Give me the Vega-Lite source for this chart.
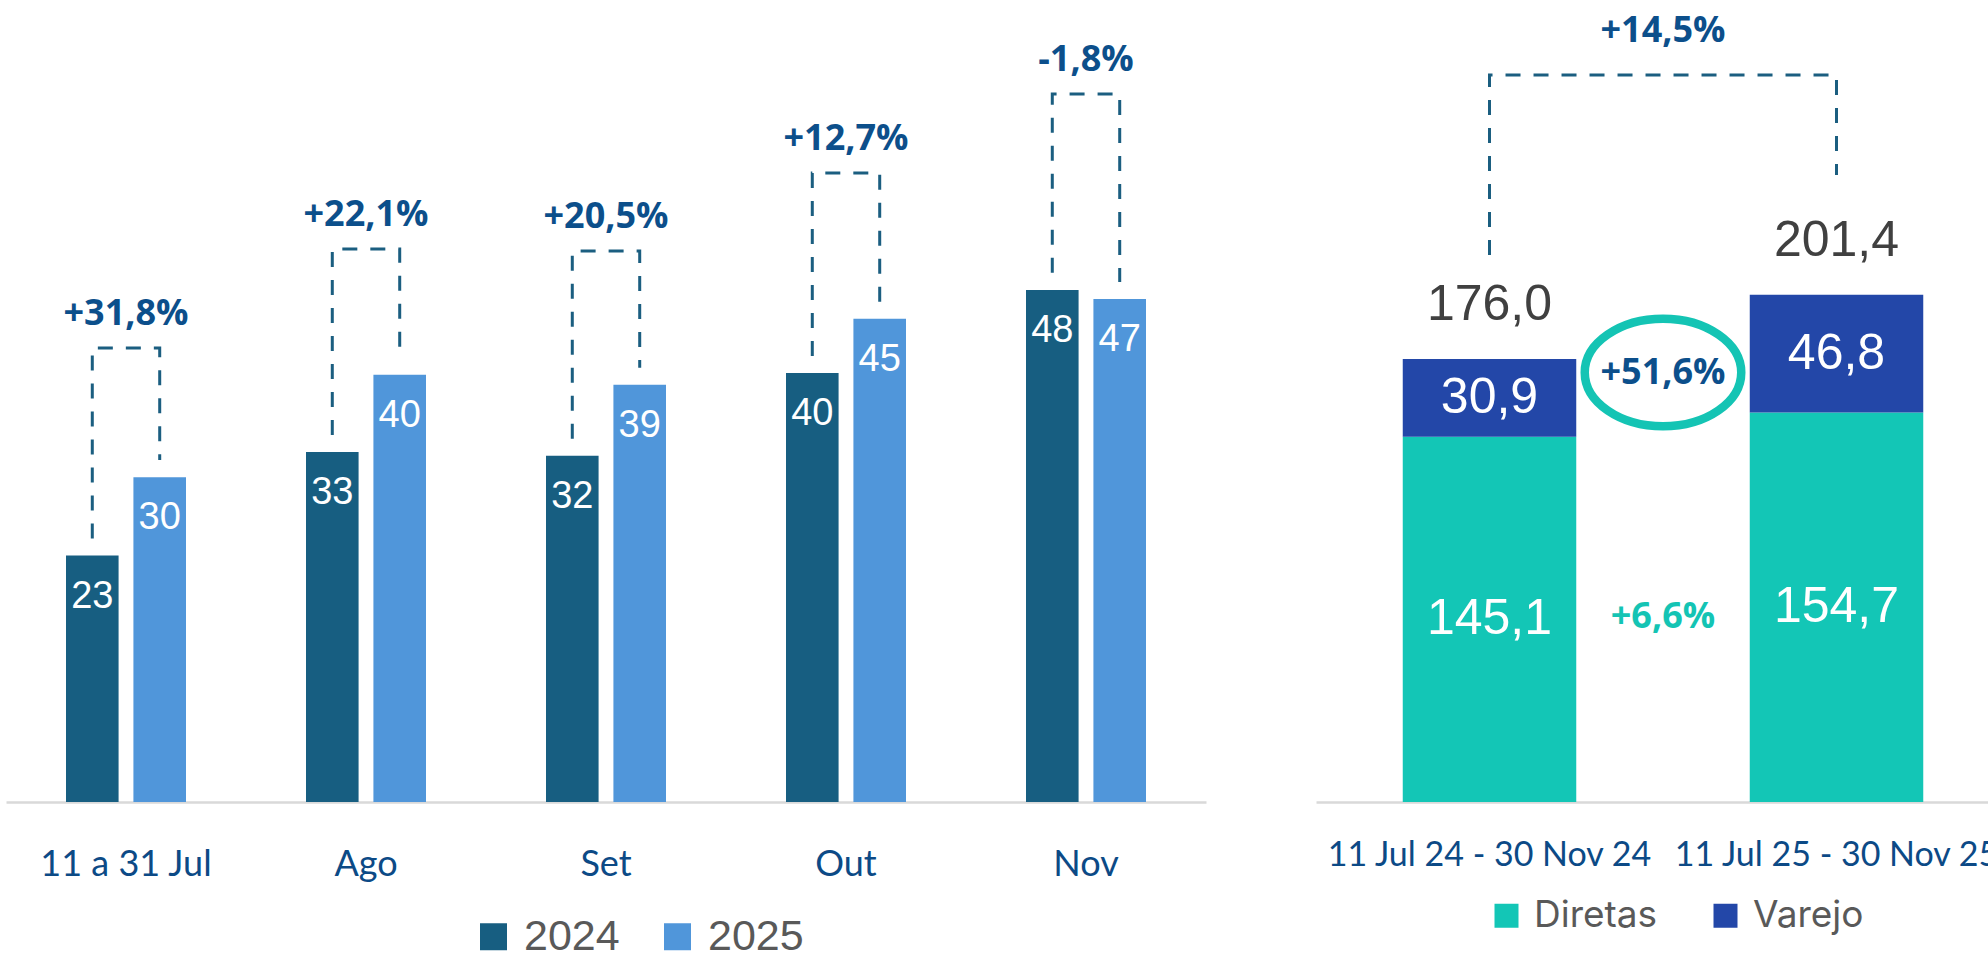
{
  "$schema": "https://vega.github.io/schema/vega-lite/v6.json",
  "width": 1988,
  "height": 953,
  "padding": 0,
  "autosize": {"type": "none"},
  "background": "#FFFFFF",
  "config": {
    "view": {"stroke": null},
    "font": "Lato",
    "axis": {"grid": false},
    "locale": {"number": {"decimal": ",", "thousands": ".", "grouping": [3], "currency": ["R$", ""]}}
  },
  "datasets": {
    "mensal": [
      {"periodo": "11 a 31 Jul", "ano": "2024", "valor": 23.1},
      {"periodo": "11 a 31 Jul", "ano": "2025", "valor": 30.45},
      {"periodo": "Ago", "ano": "2024", "valor": 32.8},
      {"periodo": "Ago", "ano": "2025", "valor": 40.05},
      {"periodo": "Set", "ano": "2024", "valor": 32.45},
      {"periodo": "Set", "ano": "2025", "valor": 39.1},
      {"periodo": "Out", "ano": "2024", "valor": 40.2},
      {"periodo": "Out", "ano": "2025", "valor": 45.3},
      {"periodo": "Nov", "ano": "2024", "valor": 48.0},
      {"periodo": "Nov", "ano": "2025", "valor": 47.15}
    ],
    "colchetesL": [
      {"periodo": "11 a 31 Jul", "ano": "2024", "nivel": 24.7, "ponto": 1},
      {"periodo": "11 a 31 Jul", "ano": "2024", "nivel": 42.55, "ponto": 2},
      {"periodo": "11 a 31 Jul", "ano": "2025", "nivel": 42.55, "ponto": 3},
      {"periodo": "11 a 31 Jul", "ano": "2025", "nivel": 32.05, "ponto": 4},
      {"periodo": "Ago", "ano": "2024", "nivel": 34.4, "ponto": 1},
      {"periodo": "Ago", "ano": "2024", "nivel": 51.83, "ponto": 2},
      {"periodo": "Ago", "ano": "2025", "nivel": 51.83, "ponto": 3},
      {"periodo": "Ago", "ano": "2025", "nivel": 41.65, "ponto": 4},
      {"periodo": "Set", "ano": "2024", "nivel": 34.05, "ponto": 1},
      {"periodo": "Set", "ano": "2024", "nivel": 51.64, "ponto": 2},
      {"periodo": "Set", "ano": "2025", "nivel": 51.64, "ponto": 3},
      {"periodo": "Set", "ano": "2025", "nivel": 40.7, "ponto": 4},
      {"periodo": "Out", "ano": "2024", "nivel": 41.8, "ponto": 1},
      {"periodo": "Out", "ano": "2024", "nivel": 58.95, "ponto": 2},
      {"periodo": "Out", "ano": "2025", "nivel": 58.95, "ponto": 3},
      {"periodo": "Out", "ano": "2025", "nivel": 46.9, "ponto": 4},
      {"periodo": "Nov", "ano": "2024", "nivel": 49.6, "ponto": 1},
      {"periodo": "Nov", "ano": "2024", "nivel": 66.35, "ponto": 2},
      {"periodo": "Nov", "ano": "2025", "nivel": 66.35, "ponto": 3},
      {"periodo": "Nov", "ano": "2025", "nivel": 48.75, "ponto": 4}
    ],
    "pctL": [
      {"periodo": "11 a 31 Jul", "pct": "+31,8%", "topo": 42.55},
      {"periodo": "Ago", "pct": "+22,1%", "topo": 51.83},
      {"periodo": "Set", "pct": "+20,5%", "topo": 51.64},
      {"periodo": "Out", "pct": "+12,7%", "topo": 58.95},
      {"periodo": "Nov", "pct": "-1,8%", "topo": 66.35}
    ],
    "cumulativo": [
      {"periodo": "11 Jul 24 - 30 Nov 24", "canal": "Diretas", "valor": 145.1},
      {"periodo": "11 Jul 24 - 30 Nov 24", "canal": "Varejo", "valor": 30.9},
      {"periodo": "11 Jul 25 - 30 Nov 25", "canal": "Diretas", "valor": 154.7},
      {"periodo": "11 Jul 25 - 30 Nov 25", "canal": "Varejo", "valor": 46.8}
    ],
    "totais": [
      {"periodo": "11 Jul 24 - 30 Nov 24", "total": 176.0},
      {"periodo": "11 Jul 25 - 30 Nov 25", "total": 201.4}
    ],
    "colcheteR": [
      {"periodo": "11 Jul 24 - 30 Nov 24", "nivel": 217.3, "ponto": 1},
      {"periodo": "11 Jul 24 - 30 Nov 24", "nivel": 288.8, "ponto": 2},
      {"periodo": "11 Jul 25 - 30 Nov 25", "nivel": 288.8, "ponto": 3},
      {"periodo": "11 Jul 25 - 30 Nov 25", "nivel": 249.1, "ponto": 4}
    ],
    "anotR": [
      {"periodo": "meio", "texto": "+14,5%", "nivel": 306.1, "tipo": "total"},
      {"periodo": "meio", "texto": "+51,6%", "nivel": 170.6, "tipo": "varejo"},
      {"periodo": "meio", "texto": "+6,6%", "nivel": 73.5, "tipo": "diretas"}
    ]
  },
  "layer": [
    {
      "encoding": {
        "x": {
          "field": "periodo", "type": "nominal",
          "scale": {"domain": ["11 a 31 Jul", "Ago", "Set", "Out", "Nov"], "range": [6, 1206], "paddingInner": 0.5, "paddingOuter": 0.25},
          "axis": {"orient": "bottom", "offset": -151, "title": null, "domainColor": "#D9D9D9", "domainWidth": 2.5, "ticks": false, "tickSize": 0, "labelPadding": 73, "labelBaseline": "alphabetic", "labelFont": "Lato", "labelFontSize": 36, "labelColor": "#0C4A86", "labelAngle": 0, "labelOverlap": false, "labelBound": false, "labelFlush": false, "labelLimit": 0}
        }
      },
      "layer": [
        {
          "data": {"name": "mensal"},
          "mark": {"type": "bar"},
          "encoding": {
            "xOffset": {"field": "ano", "type": "nominal", "scale": {"paddingInner": 0.22, "paddingOuter": 0}},
            "y": {"field": "valor", "type": "quantitative", "scale": {"domain": [-14.15, 75.17], "nice": false, "zero": false}, "axis": null},
            "color": {
              "field": "ano", "type": "nominal",
              "scale": {"domain": ["2024", "2025"], "range": ["#175E81", "#5096DA"]},
              "legend": {"orient": "none", "legendX": 472, "legendY": 915, "direction": "horizontal", "title": null, "symbolType": "square", "symbolSize": 729, "symbolStrokeWidth": 0, "symbolOpacity": 1, "labelFontSize": 43, "labelFont": "Liberation Sans", "labelColor": "#595959", "labelOffset": 9, "columnPadding": 36, "padding": 0}
            }
          }
        },
        {
          "data": {"name": "mensal"},
          "mark": {"type": "text", "color": "#FFFFFF", "font": "Liberation Sans", "fontSize": 38, "baseline": "middle", "dy": 41},
          "encoding": {
            "xOffset": {"field": "ano", "type": "nominal", "scale": {"paddingInner": 0.22, "paddingOuter": 0}},
            "y": {"field": "valor", "type": "quantitative"},
            "text": {"field": "valor", "type": "quantitative", "format": ".0f"}
          }
        },
        {
          "data": {"name": "colchetesL"},
          "mark": {"type": "line", "color": "#1B5E80", "strokeWidth": 3, "strokeDash": [15, 13], "strokeCap": "butt"},
          "encoding": {
            "xOffset": {"field": "ano", "type": "nominal", "scale": {"paddingInner": 0.22, "paddingOuter": 0}},
            "y": {"field": "nivel", "type": "quantitative"},
            "detail": {"field": "periodo"},
            "order": {"field": "ponto", "type": "quantitative"}
          }
        },
        {
          "data": {"name": "pctL"},
          "mark": {"type": "text", "font": "Open Sans", "fontWeight": "bold", "fontSize": 36, "color": "#0C4F8B", "baseline": "middle", "dy": -34},
          "encoding": {
            "y": {"field": "topo", "type": "quantitative"},
            "text": {"field": "pct", "type": "nominal"}
          }
        }
      ]
    },
    {
      "encoding": {
        "x": {
          "field": "periodo", "type": "nominal",
          "scale": {"domain": ["11 Jul 24 - 30 Nov 24", "meio", "11 Jul 25 - 30 Nov 25"], "range": [1316, 2010], "paddingInner": 0, "paddingOuter": 0.5},
          "axis": {"orient": "bottom", "offset": -151, "title": null, "domainColor": "#D9D9D9", "domainWidth": 2.5, "ticks": false, "tickSize": 0, "labelPadding": 63, "labelBaseline": "alphabetic", "labelFont": "Lato", "labelFontSize": 34, "labelColor": "#0C4A86", "labelAngle": 0, "labelOverlap": false, "labelBound": false, "labelFlush": false, "labelLimit": 0, "labelExpr": "datum.value == 'meio' ? '' : datum.label"}
        }
      },
      "layer": [
        {
          "data": {"name": "cumulativo"},
          "mark": {"type": "bar"},
          "encoding": {
            "y": {"field": "valor", "type": "quantitative", "stack": "zero", "scale": {"domain": [-60, 318.6], "nice": false, "zero": false}, "axis": null},
            "order": {"field": "canal", "type": "nominal", "sort": "ascending"},
            "color": {
              "field": "canal", "type": "nominal",
              "scale": {"domain": ["Diretas", "Varejo"], "range": ["#13C6B6", "#2347A8"]},
              "legend": {"orient": "none", "legendX": 1488, "legendY": 897, "direction": "horizontal", "title": null, "symbolType": "square", "symbolSize": 576, "symbolStrokeWidth": 0, "symbolOpacity": 1, "labelFontSize": 37, "labelFont": "Inter", "labelColor": "#595959", "labelOffset": 9, "columnPadding": 49, "padding": 0}
            }
          }
        },
        {
          "data": {"name": "cumulativo"},
          "transform": [
            {"stack": "valor", "groupby": ["periodo"], "sort": [{"field": "canal", "order": "ascending"}], "as": ["base", "topoSeg"]},
            {"calculate": "(datum.base + datum.topoSeg) / 2", "as": "meioSeg"}
          ],
          "mark": {"type": "text", "color": "#FFFFFF", "font": "Liberation Sans", "fontSize": 50, "baseline": "middle"},
          "encoding": {
            "y": {"field": "meioSeg", "type": "quantitative"},
            "text": {"field": "valor", "type": "quantitative", "format": ".1f"}
          }
        },
        {
          "data": {"name": "totais"},
          "mark": {"type": "text", "color": "#404040", "font": "Liberation Sans", "fontSize": 50, "baseline": "middle", "dy": -54},
          "encoding": {
            "y": {"field": "total", "type": "quantitative"},
            "text": {"field": "total", "type": "quantitative", "format": ".1f"}
          }
        },
        {
          "data": {"name": "colcheteR"},
          "mark": {"type": "line", "color": "#1B5E80", "strokeWidth": 3, "strokeDash": [15, 13], "strokeCap": "butt"},
          "encoding": {
            "y": {"field": "nivel", "type": "quantitative"},
            "order": {"field": "ponto", "type": "quantitative"}
          }
        },
        {
          "data": {"name": "anotR"},
          "transform": [{"filter": {"field": "tipo", "equal": "varejo"}}],
          "mark": {"type": "point", "shape": "M -1 0 A 1 0.687 0 1 1 1 0 A 1 0.687 0 1 1 -1 0 Z", "size": 24492, "filled": false, "stroke": "#14C4B4", "strokeWidth": 8.5, "opacity": 1},
          "encoding": {"y": {"field": "nivel", "type": "quantitative"}}
        },
        {
          "data": {"name": "anotR"},
          "mark": {"type": "text", "font": "Open Sans", "fontWeight": "bold", "fontSize": 36, "baseline": "middle"},
          "encoding": {
            "y": {"field": "nivel", "type": "quantitative"},
            "text": {"field": "texto", "type": "nominal"},
            "color": {"condition": {"test": "datum.tipo == 'diretas'", "value": "#14C4B4"}, "value": "#0C4F8B"}
          }
        }
      ]
    }
  ],
  "resolve": {
    "scale": {"x": "independent", "y": "independent", "color": "independent", "xOffset": "independent"},
    "axis": {"x": "independent", "y": "independent"},
    "legend": {"color": "independent"}
  }
}
